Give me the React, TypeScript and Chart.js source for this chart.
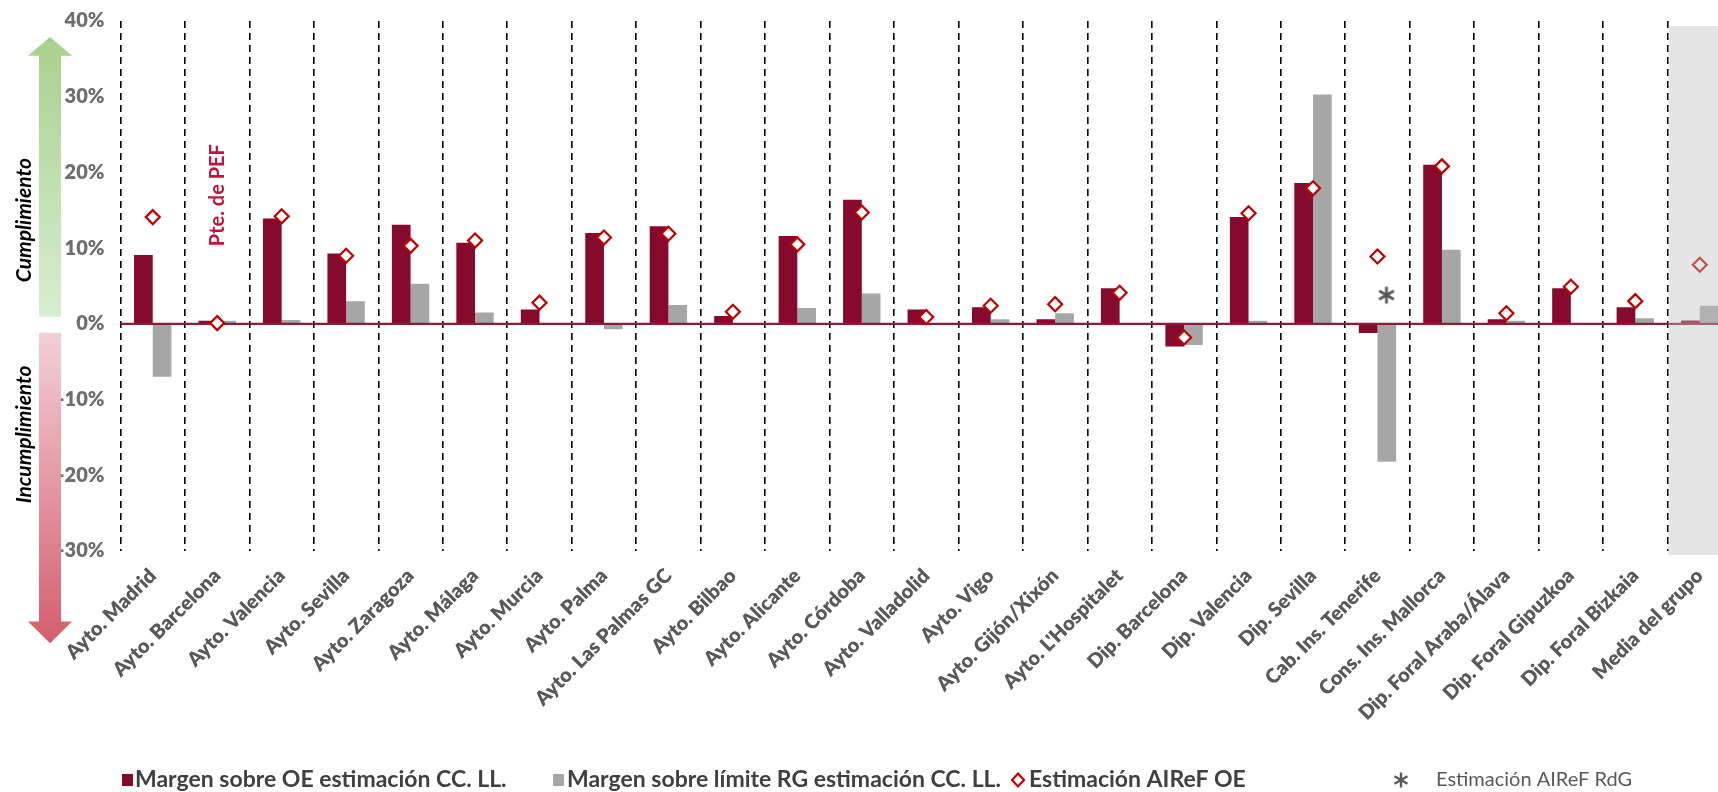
import React, { useEffect, useRef } from 'react';
import { Chart, registerables } from 'chart.js';

Chart.register(...registerables);

// ---------------- DATA ----------------
const categories = [
  'Ayto. Madrid', 'Ayto. Barcelona', 'Ayto. Valencia', 'Ayto. Sevilla', 'Ayto. Zaragoza',
  'Ayto. Málaga', 'Ayto. Murcia', 'Ayto. Palma', 'Ayto. Las Palmas GC', 'Ayto. Bilbao',
  'Ayto. Alicante', 'Ayto. Córdoba', 'Ayto. Valladolid', 'Ayto. Vigo', 'Ayto. Gijón/Xixón',
  "Ayto. L'Hospitalet", 'Dip. Barcelona', 'Dip. Valencia', 'Dip. Sevilla', 'Cab. Ins. Tenerife',
  'Cons. Ins. Mallorca', 'Dip. Foral Araba/Álava', 'Dip. Foral Gipuzkoa', 'Dip. Foral Bizkaia',
  'Media del grupo',
];

// Margen sobre OE estimación CC. LL. (%)
const margenOE = [
  9.1, 0.4, 13.9, 9.3, 13.1, 10.7, 1.9, 12.0, 12.9, 1.05, 11.6, 16.4, 1.9, 2.2, 0.6, 4.7,
  -3.0, 14.1, 18.6, -1.2, 21.0, 0.6, 4.7, 2.2, 0.45,
];

// Margen sobre límite RG estimación CC. LL. (%)
const margenRG = [
  -7.0, 0.4, 0.5, 3.0, 5.3, 1.5, 0, -0.7, 2.5, 0, 2.1, 4.0, 0, 0.6, 1.4, 0,
  -2.8, 0.4, 30.3, -18.2, 9.8, 0.4, 0, 0.75, 2.4,
];

// Estimación AIReF OE (%)
const estimacionOE = [
  14.1, 0.1, 14.2, 9.0, 10.3, 11.0, 2.8, 11.4, 11.9, 1.6, 10.5, 14.7, 0.9, 2.4, 2.6, 4.1,
  -1.8, 14.6, 17.9, 8.9, 20.8, 1.4, 4.9, 3.0, 7.8,
];

// Estimación AIReF RdG (%)
const estimacionRdG: (number | null)[] = [
  null, null, null, null, null, null, null, null, null, null, null, null, null, null, null, null,
  null, null, null, 3.8, null, null, null, null, null,
];

const seriesLabels = [
  'Margen sobre OE estimación CC. LL.',
  'Margen sobre límite RG estimación CC. LL.',
  'Estimación AIReF OE',
  'Estimación AIReF RdG',
];

const yMin = -30;
const yMax = 40;
const yStep = 10;

const annotationPEF = { category: 1, value: 17, text: 'Pte. de PEF' };
const highlightCategory = 24;
const arrowTexts = ['Cumplimiento', 'Incumplimiento'];

// ---------------- STYLE ----------------
const DARK = '#850a2b';
const GRAY = '#a6a6a6';
const RED = '#c00000';
const FONT = 'Lato, "Open Sans", sans-serif';

function makeAsterisk(offsetX: number) {
  const c = document.createElement('canvas');
  c.width = 48;
  c.height = 24;
  const ctx = c.getContext('2d')!;
  ctx.strokeStyle = '#5a5a5a';
  ctx.lineWidth = 2.8;
  const cx = 24 + offsetX;
  const cy = 12;
  const r = 8.5;
  for (let k = 0; k < 3; k++) {
    const a = Math.PI / 2 + (k * Math.PI) / 3;
    ctx.beginPath();
    ctx.moveTo(cx - r * Math.cos(a), cy - r * Math.sin(a));
    ctx.lineTo(cx + r * Math.cos(a), cy + r * Math.sin(a));
    ctx.stroke();
  }
  return c;
}

function drawAsteriskAt(ctx: CanvasRenderingContext2D, cx: number, cy: number, r: number) {
  ctx.save();
  ctx.strokeStyle = '#5a5a5a';
  ctx.lineWidth = 2.4;
  for (let k = 0; k < 3; k++) {
    const a = Math.PI / 2 + (k * Math.PI) / 3;
    ctx.beginPath();
    ctx.moveTo(cx - r * Math.cos(a), cy - r * Math.sin(a));
    ctx.lineTo(cx + r * Math.cos(a), cy + r * Math.sin(a));
    ctx.stroke();
  }
  ctx.restore();
}

function drawArrow(
  ctx: CanvasRenderingContext2D,
  cx: number,
  shaftHalf: number,
  headHalf: number,
  yStart: number,
  yHeadBase: number,
  yTip: number,
  cTop: string,
  cBottom: string,
) {
  const g = ctx.createLinearGradient(0, Math.min(yStart, yTip), 0, Math.max(yStart, yTip));
  g.addColorStop(0, cTop);
  g.addColorStop(1, cBottom);
  ctx.save();
  ctx.fillStyle = g;
  ctx.beginPath();
  ctx.moveTo(cx - shaftHalf, yStart);
  ctx.lineTo(cx - shaftHalf, yHeadBase);
  ctx.lineTo(cx - headHalf, yHeadBase);
  ctx.lineTo(cx, yTip);
  ctx.lineTo(cx + headHalf, yHeadBase);
  ctx.lineTo(cx + shaftHalf, yHeadBase);
  ctx.lineTo(cx + shaftHalf, yStart);
  ctx.closePath();
  ctx.fill();
  ctx.restore();
}

const decorPlugin = {
  id: 'decor',
  beforeDatasetDraw(chart: any, args: any) {
    if (args.index !== 1) return;
    const { ctx, chartArea, scales } = chart;
    const y0 = scales.y.getPixelForValue(0);
    ctx.save();
    ctx.strokeStyle = '#8e1a3d';
    ctx.lineWidth = 2.2;
    ctx.beginPath();
    ctx.moveTo(chartArea.left, y0);
    ctx.lineTo(chartArea.right, y0);
    ctx.stroke();
    ctx.restore();
  },
  afterDatasetsDraw(chart: any) {
    const { ctx, chartArea, scales } = chart;
    const xs = scales.x;
    const ys = scales.y;
    const half = (xs.getPixelForValue(1) - xs.getPixelForValue(0)) / 2;
    const left = xs.getPixelForValue(highlightCategory) - half + 0.9;
    ctx.save();
    ctx.fillStyle = 'rgba(193,193,193,0.42)';
    ctx.fillRect(left, chartArea.top + 5, chart.width - left, chartArea.bottom - chartArea.top - 1);
    ctx.restore();

    ctx.save();
    ctx.translate(xs.getPixelForValue(annotationPEF.category), ys.getPixelForValue(annotationPEF.value));
    ctx.rotate(-Math.PI / 2);
    ctx.font = `bold 20px ${FONT}`;
    ctx.fillStyle = '#c0143c';
    ctx.textAlign = 'center';
    ctx.textBaseline = 'middle';
    ctx.fillText(annotationPEF.text, 0, 0);
    ctx.restore();
  },
  afterDraw(chart: any) {
    const { ctx, scales } = chart;
    const ys = scales.y;
    const y0 = ys.getPixelForValue(0);
    drawArrow(ctx, 50, 11, 22, y0 - 7, ys.getPixelForValue(35.4), ys.getPixelForValue(37.9),
      '#a8d08d', '#d7eed1');
    drawArrow(ctx, 50, 11, 22, y0 + 9, ys.getPixelForValue(-39.3), ys.getPixelForValue(-42.2),
      '#f3d0d6', '#d45d6d');

    const drawVert = (text: string, value: number) => {
      ctx.save();
      ctx.fillStyle = '#000';
      ctx.font = `italic bold 21px ${FONT}`;
      ctx.textAlign = 'center';
      ctx.textBaseline = 'middle';
      ctx.translate(24, ys.getPixelForValue(value));
      ctx.rotate(-Math.PI / 2);
      ctx.fillText(text, 0, 0);
      ctx.restore();
    };
    drawVert(arrowTexts[0], 13.7);
    drawVert(arrowTexts[1], -14.6);

    // legend
    const ly = 780;
    const ds = chart.data.datasets;
    ctx.save();
    ctx.textBaseline = 'middle';
    ctx.textAlign = 'left';
    ctx.font = `bold 23px ${FONT}`;
    ctx.fillStyle = ds[2].backgroundColor;
    ctx.fillRect(122, ly - 6, 11, 12);
    ctx.fillStyle = '#404040';
    ctx.fillText(ds[2].label, 135, ly);

    ctx.fillStyle = ds[3].backgroundColor;
    ctx.fillRect(553, ly - 6, 11, 12);
    ctx.fillStyle = '#404040';
    ctx.fillText(ds[3].label, 567, ly);

    ctx.strokeStyle = RED;
    ctx.fillStyle = '#fff';
    ctx.lineWidth = 2.2;
    ctx.beginPath();
    ctx.moveTo(1018, ly - 6.5);
    ctx.lineTo(1024, ly);
    ctx.lineTo(1018, ly + 6.5);
    ctx.lineTo(1012, ly);
    ctx.closePath();
    ctx.fill();
    ctx.stroke();
    ctx.fillStyle = '#404040';
    ctx.fillText(ds[1].label, 1029, ly);

    drawAsteriskAt(ctx, 1401, ly, 7.5);
    ctx.font = `20px ${FONT}`;
    ctx.fillStyle = '#595959';
    ctx.fillText(ds[0].label, 1436, ly);
    ctx.restore();
  },
};

export default function App() {
  const canvasRef = useRef<HTMLCanvasElement | null>(null);

  useEffect(() => {
    const canvas = canvasRef.current;
    if (!canvas) return;
    const chart = new Chart(canvas, {
      type: 'bar',
      data: {
        labels: categories,
        datasets: [
          {
            type: 'line',
            label: seriesLabels[3],
            data: estimacionRdG,
            showLine: false,
            pointStyle: makeAsterisk(9) as any,
            pointRadius: 8,
            order: 0,
          } as any,
          {
            type: 'line',
            label: seriesLabels[2],
            data: estimacionOE,
            showLine: false,
            pointStyle: 'rectRot',
            pointRadius: 7,
            pointBorderWidth: 2.2,
            pointBorderColor: RED,
            pointBackgroundColor: '#ffffff',
            order: 1,
          } as any,
          {
            type: 'bar',
            label: seriesLabels[0],
            data: margenOE,
            backgroundColor: DARK,
            order: 2,
          },
          {
            type: 'bar',
            label: seriesLabels[1],
            data: margenRG,
            backgroundColor: GRAY,
            order: 3,
          },
        ],
      },
      options: {
        responsive: false,
        animation: false,
        layout: { padding: { top: 21, right: 28, left: 0, bottom: 0 } },
        plugins: { legend: { display: false }, tooltip: { enabled: false } },
        datasets: { bar: { categoryPercentage: 0.58, barPercentage: 1 } } as any,
        scales: {
          x: {
            grid: { display: true, color: '#000000', lineWidth: 1.6, drawTicks: false, offset: true },
            border: { display: false, dash: [7, 5] },
            ticks: {
              autoSkip: false,
              maxRotation: 45,
              minRotation: 45,
              color: '#595959',
              padding: 13,
              font: { family: FONT, size: 20, weight: '800' },
            },
            afterFit: (s: any) => {
              s.height = 241;
            },
          },
          y: {
            min: yMin,
            max: yMax,
            grid: { display: false, drawTicks: true, tickLength: 8 },
            border: { display: false },
            ticks: {
              stepSize: yStep,
              padding: 8,
              color: '#6e6e6e',
              font: { family: FONT, size: 20, weight: '800' },
              callback: (v: any) => `${v}%`,
            },
            afterFit: (s: any) => {
              s.width = 120.5;
            },
          },
        },
      },
      plugins: [decorPlugin],
    });
    return () => chart.destroy();
  }, []);

  return (
    <div
      style={{
        position: 'absolute',
        left: 0,
        top: 0,
        width: 1718,
        height: 792,
        overflow: 'hidden',
        background: '#ffffff',
      }}
    >
      <canvas ref={canvasRef} width={1760} height={792} style={{ display: 'block' }} />
    </div>
  );
}
